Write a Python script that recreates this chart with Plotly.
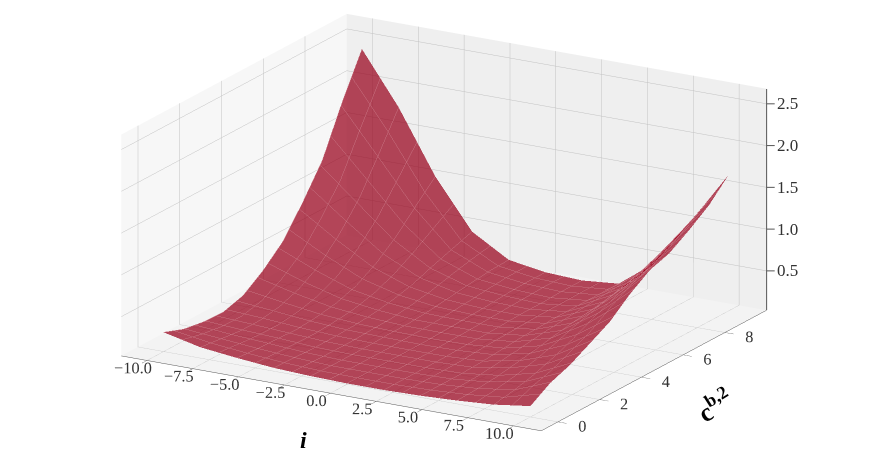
import math
import plotly.graph_objects as go

x_vals = [-10, -8, -6, -4, -2, 0, 2, 4, 6, 8, 10]
y_vals = [0, 0.95, 1.9, 2.85, 3.8, 4.75, 5.7, 6.65, 7.6, 8.55, 9.5]
z_grid = [
    [.26, .16, .11, .07, .05, .04, .04, .05, .07, .10, .16],
    [.17, .13, .09, .06, .04, .04, .04, .05, .08, .14, .31],
    [.13, .10, .08, .05, .04, .04, .04, .05, .10, .20, .40],
    [.12, .10, .07, .05, .04, .04, .04, .06, .14, .28, .53],
    [.19, .14, .09, .06, .05, .04, .05, .08, .18, .38, .66],
    [.36, .23, .13, .08, .05, .05, .05, .10, .23, .50, .86],
    [.58, .38, .21, .12, .07, .06, .06, .11, .27, .60, 1.02],
    [.92, .62, .35, .18, .10, .07, .07, .12, .30, .70, 1.10],
    [1.30, .92, .54, .27, .13, .09, .07, .12, .34, .80, 1.25],
    [1.87, 1.33, .78, .35, .16, .10, .08, .12, .38, .92, 1.42],
    [2.38, 1.76, 1.01, .43, .17, .10, .08, .12, .45, 1.04, 1.66],
]
x_ticks = [-10, -7.5, -5, -2.5, 0, 2.5, 5, 7.5, 10]
x_labels = ["\u221210.0", "\u22127.5", "\u22125.0", "\u22122.5", "0.0", "2.5", "5.0", "7.5", "10.0"]
y_ticks = [0, 2, 4, 6, 8]
z_ticks = [0.5, 1.0, 1.5, 2.0, 2.5]
z_labels = ["0.5", "1.0", "1.5", "2.0", "2.5"]

X_RANGE = [-11.4, 11.5]
Y_RANGE = [-0.8, 10]
Z_RANGE = [0.03, 2.68]
FONT = "Liberation Serif"
RED = "#f5002a"
ZOOM = 2.09
SHIFT = -0.08

fig = go.Figure(go.Surface(
    x=x_vals, y=y_vals, z=z_grid,
    colorscale=[[0, RED], [1, RED]], showscale=False, opacity=0.72,
    lighting=dict(ambient=0.62, diffuse=1.0, specular=0.0, roughness=1, fresnel=0),
    lightposition=dict(x=-100000, y=-30000, z=10000),
    contours=dict(
        x=dict(show=True, start=-10, end=10, size=1, color="rgb(200,116,130)", width=1),
        y=dict(show=True, start=0, end=9.5, size=0.5, color="rgb(200,116,130)", width=1),
    ),
    hoverinfo="skip",
))

# z axis drawn on the right-hand corner, as in the reference
fig.add_trace(go.Scatter3d(
    x=[X_RANGE[1]] * 2, y=[Y_RANGE[1]] * 2, z=Z_RANGE, mode="lines",
    line=dict(color="#555555", width=2), hoverinfo="skip"))

z_annotations = [
    dict(x=X_RANGE[1], y=Y_RANGE[1], z=zt, text=label, showarrow=True, arrowhead=0, arrowwidth=1,
         arrowcolor="#555555", ax=8, ay=0, xanchor="left", yanchor="middle",
         font=dict(family=FONT, size=17, color="#333333"))
    for zt, label in zip(z_ticks, z_labels)
]

def axis(**kw):
    base = dict(showgrid=True, gridcolor="#c2c2c2", gridwidth=1, zeroline=False,
                showline=True, linecolor="#555555", linewidth=1, ticks="outside",
                ticklen=10, tickcolor="#555555", title=dict(text=""), tickangle=0,
                tickfont=dict(family=FONT, size=14, color="#333333"),
                showbackground=True, showspikes=False)
    base.update(kw)
    return base

az, el, r = math.radians(-60), math.radians(18), 1.3
fig.update_layout(
    width=872, height=464, margin=dict(l=0, r=0, t=0, b=0),
    paper_bgcolor="white", showlegend=False,
    scene=dict(
        domain=dict(x=[0, 1], y=[0, 1]),
        aspectmode="manual", aspectratio=dict(x=1 * ZOOM, y=0.93 * ZOOM, z=0.48 * ZOOM),
        camera=dict(
            eye=dict(x=r * math.cos(el) * math.cos(az), y=r * math.cos(el) * math.sin(az), z=r * math.sin(el) + SHIFT),
            center=dict(x=0, y=0, z=SHIFT), up=dict(x=0, y=0, z=1),
            projection=dict(type="orthographic"),
        ),
        xaxis=axis(range=X_RANGE, tickvals=x_ticks, ticktext=x_labels, backgroundcolor="#f7f7f7"),
        yaxis=axis(range=Y_RANGE, tickvals=y_ticks, backgroundcolor="#efefef"),
        zaxis=axis(range=Z_RANGE, tickvals=z_ticks, showticklabels=False, ticks="", showline=False,
                   backgroundcolor="#f3f3f3"),
        annotations=z_annotations,
    ),
    annotations=[
        dict(text="<b><i>i</i></b>", x=295 / 872, y=1 - 432 / 464, xref="paper", yref="paper", showarrow=False,
             xanchor="center", yanchor="middle", font=dict(family=FONT, size=24, color="black")),
        dict(text="<b>c<sup>b,2</sup></b>", x=706 / 872, y=1 - 397 / 464, xref="paper", yref="paper", showarrow=False,
             xanchor="center", yanchor="middle", textangle=-32, font=dict(family=FONT, size=26, color="black")),
    ],
)
fig.write_html("out.html")
